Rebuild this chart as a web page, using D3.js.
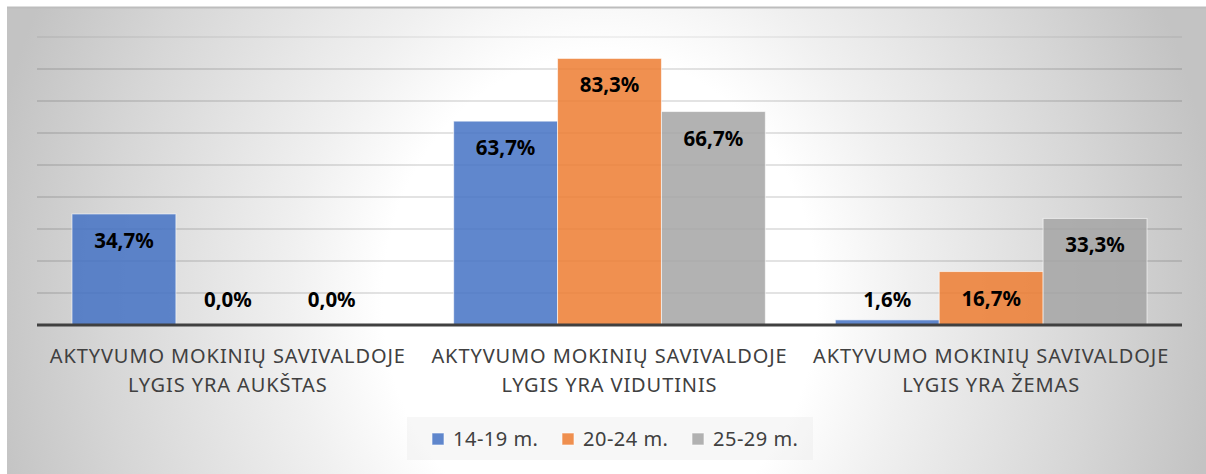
<!DOCTYPE html>
<html>
<head>
<meta charset="utf-8">
<script src="https://cdn.jsdelivr.net/npm/d3@7"></script>
<style>
  html, body { margin: 0; padding: 0; background: white; }
  svg { display: block; font-family: 'Noto Sans', 'Open Sans', sans-serif; }
</style>
</head>
<body>
<svg id="chart" width="1206" height="474"></svg>
<script>
const categories = [
  ['AKTYVUMO MOKINIŲ SAVIVALDOJE', 'LYGIS YRA AUKŠTAS'],
  ['AKTYVUMO MOKINIŲ SAVIVALDOJE', 'LYGIS YRA VIDUTINIS'],
  ['AKTYVUMO MOKINIŲ SAVIVALDOJE', 'LYGIS YRA ŽEMAS']
]
const seriesNames = ['14-19 m.', '20-24 m.', '25-29 m.']
const series1419 = [34.7, 63.7, 1.6]
const series2024 = [0.0, 83.3, 16.7]
const series2529 = [0.0, 66.7, 33.3]
const gridTicks = [10, 20, 30, 40, 50, 60, 70, 80, 90]

const colors = ['#4472c4', '#ed7d31', '#a5a5a5']
const allSeries = [series1419, series2024, series2529]

const width = 1206
const height = 474
const margins = { top: 37, right: 24, bottom: 149, left: 37 }

const svg = d3.select('#chart')

// background, radial grey gradient
const defs = svg.append('defs')
const grad = defs.append('radialGradient')
  .attr('id', 'bg')
  .attr('gradientUnits', 'userSpaceOnUse')
  .attr('cx', 600).attr('cy', 300).attr('r', 620)
  .attr('gradientTransform', 'translate(600,300) scale(1,1.13) translate(-600,-300)')
grad.append('stop').attr('offset', 0).attr('stop-color', '#ffffff')
grad.append('stop').attr('offset', 0.35).attr('stop-color', '#ffffff')
grad.append('stop').attr('offset', 0.5).attr('stop-color', '#f0f0f0')
grad.append('stop').attr('offset', 0.8).attr('stop-color', '#d6d6d6')
grad.append('stop').attr('offset', 1).attr('stop-color', '#c3c3c3')

svg.append('rect')
  .attr('x', 7).attr('y', 7)
  .attr('width', width - 7).attr('height', height - 7)
  .attr('fill', 'url(#bg)')
svg.append('line')
  .attr('x1', 7).attr('x2', width)
  .attr('y1', 7.5).attr('y2', 7.5)
  .attr('stroke', '#bdbdbd').attr('stroke-width', 2)

const x0 = d3.scaleBand()
  .domain(d3.range(categories.length))
  .range([margins.left, width - margins.right])

const x1 = d3.scaleBand()
  .domain(d3.range(seriesNames.length))
  .range([35, x0.bandwidth() - 35])

const y = d3.scaleLinear()
  .domain([0, 90])
  .range([height - margins.bottom, margins.top])

// gridlines
svg.append('g')
  .selectAll('line')
  .data(gridTicks)
  .join('line')
  .attr('x1', margins.left)
  .attr('x2', width - margins.right)
  .attr('y1', d => y(d))
  .attr('y2', d => y(d))
  .attr('stroke', 'black')
  .attr('stroke-opacity', d => d === 90 ? 0.07 : 0.15)
  .attr('stroke-width', 1.5)

// bars
const groups = svg.append('g')
  .selectAll('g')
  .data(categories)
  .join('g')
  .attr('transform', (d, i) => `translate(${x0(i)},0)`)

groups.selectAll('rect')
  .data((d, i) => allSeries.map((s, j) => ({ v: s[i], j })))
  .join('rect')
  .attr('x', d => x1(d.j))
  .attr('width', x1.bandwidth())
  .attr('y', d => y(d.v))
  .attr('height', d => y(0) - y(d.v))
  .attr('fill', d => colors[d.j])
  .attr('fill-opacity', 0.85)
  .attr('stroke', d => d.v > 0 ? 'white' : 'none')
  .attr('stroke-opacity', 0.6)
  .attr('stroke-width', 1)

const fmt = v => v.toFixed(1).replace('.', ',') + '%'

groups.selectAll('text.val')
  .data((d, i) => allSeries.map((s, j) => ({ v: s[i], j })))
  .join('text')
  .attr('class', 'val')
  .attr('x', d => x1(d.j) + x1.bandwidth() / 2)
  .attr('y', d => Math.min(y(d.v) + 34, y(0) - 18))
  .attr('text-anchor', 'middle')
  .attr('font-size', 20.5)
  .attr('font-weight', 'bold')
  .attr('fill', 'black')
  .text(d => fmt(d.v))

// baseline
svg.append('line')
  .attr('x1', margins.left)
  .attr('x2', width - margins.right)
  .attr('y1', y(0))
  .attr('y2', y(0))
  .attr('stroke', '#404040')
  .attr('stroke-width', 3)

// category labels
groups.append('text')
  .attr('x', x0.bandwidth() / 2)
  .attr('text-anchor', 'middle')
  .attr('font-size', 20)
  .attr('letter-spacing', 0.9)
  .attr('fill', '#404040')
  .selectAll('tspan')
  .data(d => d)
  .join('tspan')
  .attr('x', x0.bandwidth() / 2)
  .attr('y', (d, i) => 363 + i * 29)
  .text(d => d)

// legend
const legend = svg.append('g')
legend.append('rect')
  .attr('x', 407).attr('y', 417)
  .attr('width', 406).attr('height', 43)
  .attr('fill', '#e6e6e6').attr('fill-opacity', 0.3)

const items = legend.selectAll('g')
  .data(seriesNames)
  .join('g')
  .attr('transform', (d, i) => `translate(${432 + i * 130},0)`)

items.append('rect')
  .attr('x', 0).attr('y', 433)
  .attr('width', 12).attr('height', 12)
  .attr('fill', (d, i) => colors[i])
  .attr('fill-opacity', 0.85)
  .attr('stroke', 'white').attr('stroke-opacity', 0.6)

items.append('text')
  .attr('x', 21).attr('y', 446)
  .attr('font-size', 20)
  .attr('letter-spacing', 0.5)
  .attr('fill', '#404040')
  .text(d => d)
</script>
</body>
</html>
